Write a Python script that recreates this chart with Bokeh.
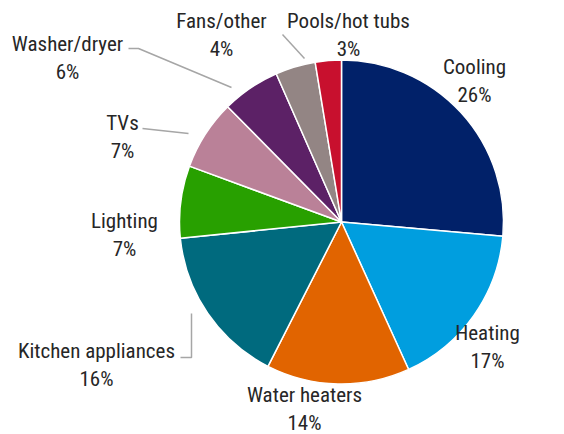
import math
from bokeh.plotting import figure
from bokeh.models import Range1d, ColumnDataSource
from bokeh.core.properties import value
from bokeh.embed import file_html
from bokeh.resources import INLINE

categories = ["Cooling", "Heating", "Water heaters", "Kitchen appliances", "Lighting",
              "TVs", "Washer/dryer", "Fans/other", "Pools/hot tubs"]
values = [26.4, 16.8, 14.3, 15.9, 7.2, 7.0, 5.8, 4.0, 2.6]
pct_labels = ["26%", "17%", "14%", "16%", "7%", "7%", "6%", "4%", "3%"]
colors = ["#012169", "#009EDF", "#E16400", "#006A7E", "#28A000",
          "#BA8198", "#5C2166", "#938584", "#C8102E"]

W, H = 564, 434
def Y(y):
    return H - y

# layout: pie centre / radius in pixels
cx, cy, r = 341, Y(221.5), 162

# label layout (centre x, first-line y)
label_pos = [(474, 66), (487, 332), (304, 394), (96, 350), (124, 220),
             (122, 122), (67, 43), (221, 20), (348, 20)]

total = sum(values)
starts, ends = [], []
cum = 0
for v in values:
    starts.append(math.pi / 2 - 2 * math.pi * cum / total)
    cum += v
    ends.append(math.pi / 2 - 2 * math.pi * cum / total)

src = ColumnDataSource(dict(start=starts, end=ends, color=colors))

p = figure(width=W, height=H, x_range=Range1d(0, W), y_range=Range1d(0, H),
           output_backend="svg", toolbar_location=None, min_border=0)
p.axis.visible = False
p.grid.visible = False
p.outline_line_color = None
p.background_fill_color = "white"

p.wedge(x=cx, y=cy, radius=r, start_angle="start", end_angle="end", direction="clock",
        fill_color="color", line_color="white", line_width=1.5, source=src)

# leader lines
lc = "#A6A6A6"
leaders = [
    ([304, 282], [58, 34]),
    ([231, 138, 128], [87, 48, 48]),
    ([188, 142], [133, 128]),
    ([180, 191, 191], [357, 357, 313]),
]
for xs, ys in leaders:
    p.line(xs, [Y(y) for y in ys], line_color=lc, line_width=1.5)

font = value("'Liberation Sans Narrow', 'Roboto Condensed', 'DejaVu Sans Condensed', Roboto, sans-serif")
lx = [pp[0] for pp in label_pos]
ly1 = [Y(pp[1]) for pp in label_pos]
ly2 = [Y(pp[1] + 28) for pp in label_pos]
p.text(x=lx, y=ly1, text=categories, text_align="center", text_baseline="middle",
       text_font=font, text_font_size="21px", text_color="#262626")
p.text(x=lx, y=ly2, text=pct_labels, text_align="center", text_baseline="middle",
       text_font=font, text_font_size="21px", text_color="#262626")

open("out.html", "w").write(file_html(p, INLINE))
